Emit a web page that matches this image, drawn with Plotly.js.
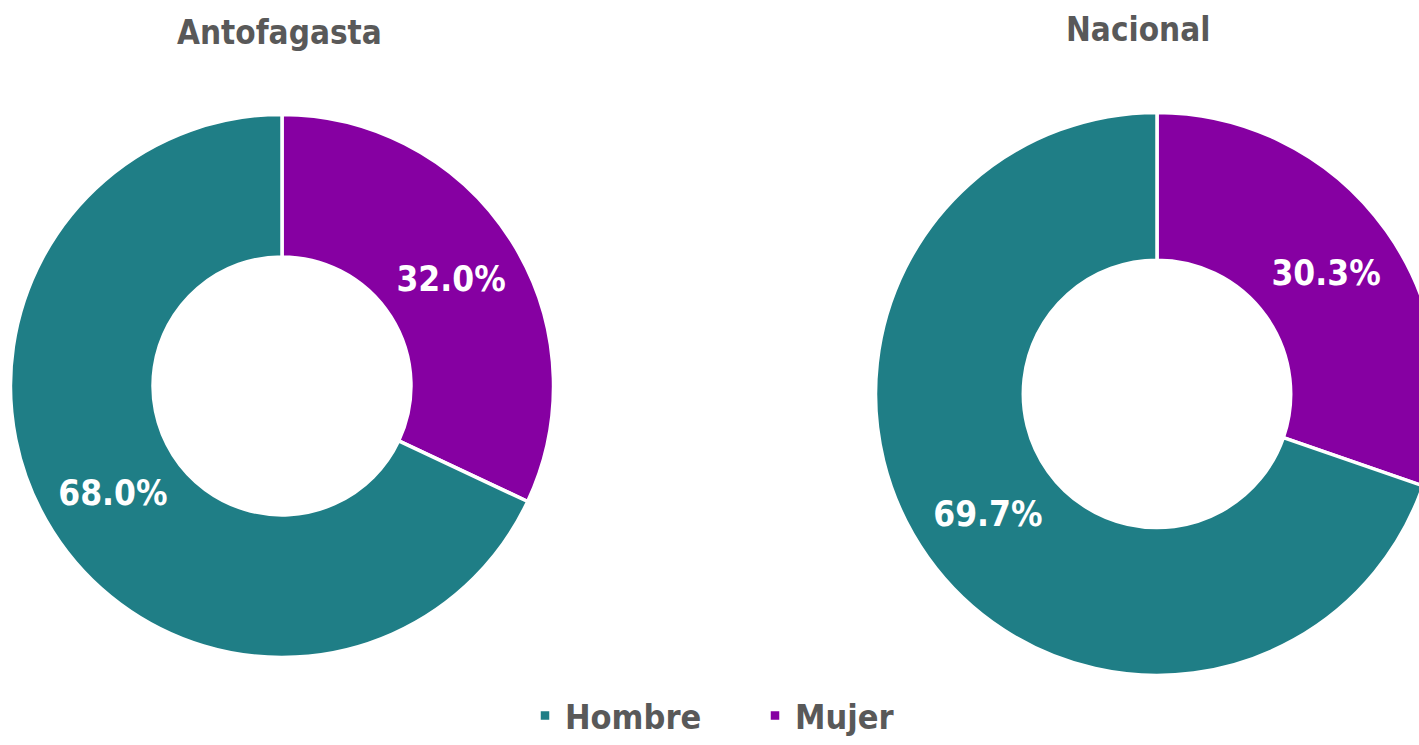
<!DOCTYPE html>
<html>
<head>
<meta charset="utf-8">
<script src="https://cdn.plot.ly/plotly-3.0.1.min.js"></script>
<style>
html,body{margin:0;padding:0;overflow:hidden;background:#fff;}
#chart{width:1440px;height:745px;}
</style>
</head>
<body>
<div id="chart"></div>
<script>
// slice order: Mujer first so it runs clockwise from 12 o'clock; legend reversed to show Hombre first
var categories = ["Mujer", "Hombre"];
var antofagastaValues = [32.0, 68.0];
var nacionalValues = [30.3, 69.7];
var panelTitles = ["Antofagasta", "Nacional"];
var sliceColors = ["#8600A2", "#1F7E86"];

var FONT = '"DejaVu Sans Condensed", "Liberation Sans", Arial, sans-serif';
var W = 1440, H = 745;

function pieTrace(values, cx, cy, r, hole) {
  return {
    type: 'pie',
    labels: categories,
    values: values,
    sort: false,
    direction: 'clockwise',
    rotation: 0,
    hole: hole,
    domain: {x: [(cx - r) / W, (cx + r) / W], y: [1 - (cy + r) / H, 1 - (cy - r) / H]},
    marker: {colors: sliceColors, line: {color: '#ffffff', width: 3.5}},
    texttemplate: '%{value:.1f}%',
    textposition: 'inside',
    insidetextorientation: 'horizontal',
    textfont: {family: FONT, size: 35, color: '#ffffff', weight: 'bold'},
    hoverinfo: 'label+percent'
  };
}

var data = [
  pieTrace(antofagastaValues, 282, 388, 273, 0.475),
  Object.assign(pieTrace(nacionalValues, 1157, 396, 283, 0.475), {showlegend: false})
];

var layout = {
  width: W,
  height: H,
  margin: {l: 0, r: 0, t: 0, b: 0},
  paper_bgcolor: '#ffffff',
  showlegend: true,
  legend: {
    orientation: 'h',
    traceorder: 'reversed',
    x: 755 / W, xanchor: 'center',
    y: 1 - 720 / H, yanchor: 'middle',
    entrywidth: 185,
    font: {family: FONT, size: 34, color: '#595959', weight: 'bold'},
    itemclick: false
  },
  annotations: [
    {text: panelTitles[0], x: 279 / W, y: 1 - 33 / H, xref: 'paper', yref: 'paper',
     showarrow: false, xanchor: 'center', yanchor: 'middle',
     font: {family: FONT, size: 33, color: '#595959', weight: 'bold'}},
    {text: panelTitles[1], x: 1138 / W, y: 1 - 30 / H, xref: 'paper', yref: 'paper',
     showarrow: false, xanchor: 'center', yanchor: 'middle',
     font: {family: FONT, size: 33, color: '#595959', weight: 'bold'}}
  ]
};

Plotly.newPlot('chart', data, layout, {displayModeBar: false, staticPlot: true});
</script>
</body>
</html>
